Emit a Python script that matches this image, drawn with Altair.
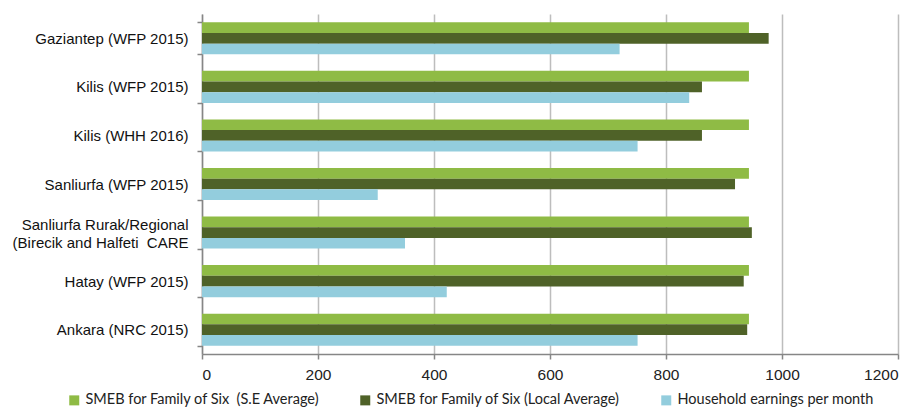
import altair as alt
import pandas as pd

categories = [
    "Gaziantep (WFP 2015)",
    "Kilis (WFP 2015)",
    "Kilis (WHH 2016)",
    "Sanliurfa (WFP 2015)",
    "Sanliurfa Rurak/Regional\n(Birecik and Halfeti\u00a0 CARE",
    "Hatay (WFP 2015)",
    "Ankara (NRC 2015)",
]
series = [
    "SMEB for Family of Six\u00a0 (S.E Average)",
    "SMEB for Family of Six (Local Average)",
    "Household earnings per month",
]
se_average = [943, 943, 943, 943, 943, 943, 943]
local_average = [977, 862, 862, 919, 948, 934, 940]
household_earnings = [720, 840, 751, 303, 350, 422, 751]
colors = ["#8FBB45", "#4F6228", "#93CDDD"]
x_ticks = [0, 200, 400, 600, 800, 1000, 1200]

rows = []
for s, vals in zip(series, [se_average, local_average, household_earnings]):
    for c, v in zip(categories, vals):
        rows.append({"Location": c, "Series": s, "Value": v})
df = pd.DataFrame(rows)

chart = alt.Chart(df).mark_bar().encode(
    y=alt.Y(
        "Location:N",
        sort=categories,
        title=None,
        scale=alt.Scale(paddingInner=0.34, paddingOuter=0.17),
        axis=alt.Axis(
            labelExpr="split(datum.label, '\\n')",
            labelFont="Liberation Sans",
            labelFontSize=15,
            labelColor="#111111",
            labelPadding=9,
            labelLineHeight=18,
            labelLimit=300,
            labelOffset={
                "condition": {
                    "test": "isString(datum.value) && indexof(datum.value, 'Rurak') >= 0",
                    "value": -8,
                },
                "value": 0,
            },
            tickBand="extent",
            tickSize=5,
            tickColor="#868686",
            domainColor="#868686",
            domainWidth=1.5,
            tickWidth=1.5,
            grid=False,
        ),
    ),
    x=alt.X(
        "Value:Q",
        title=None,
        scale=alt.Scale(domain=[0, 1200], nice=False),
        axis=alt.Axis(
            values=x_ticks,
            format="d",
            labelFont="Liberation Sans",
            labelFontSize=15.5,
            labelColor="#222222",
            labelPadding=8,
            tickSize=5,
            tickColor="#868686",
            tickWidth=1.5,
            domainColor="#868686",
            domainWidth=1.5,
            grid=True,
            gridColor="#BDBDBD",
            gridWidth=1.5,
        ),
    ),
    yOffset=alt.YOffset("Series:N", sort=series),
    color=alt.Color(
        "Series:N",
        sort=series,
        scale=alt.Scale(domain=series, range=colors),
        legend=alt.Legend(
            title=None,
            orient="none",
            legendX=-135,
            legendY=379,
            direction="horizontal",
            symbolType="square",
            symbolSize=100,
            symbolStrokeWidth=0,
            labelFont="Lato",
            labelFontSize=14.5,
            labelColor="#222222",
            labelOffset=4,
            columnPadding=38,
            labelLimit=400,
        ),
    ),
).properties(
    width=696,
    height=340,
    autosize=alt.AutoSizeParams(type="none"),
    padding={"left": 194, "top": 6, "right": 11, "bottom": 56},
).configure_view(stroke=None)

chart.save("out.html", embed_options={"renderer": "svg", "actions": False})
